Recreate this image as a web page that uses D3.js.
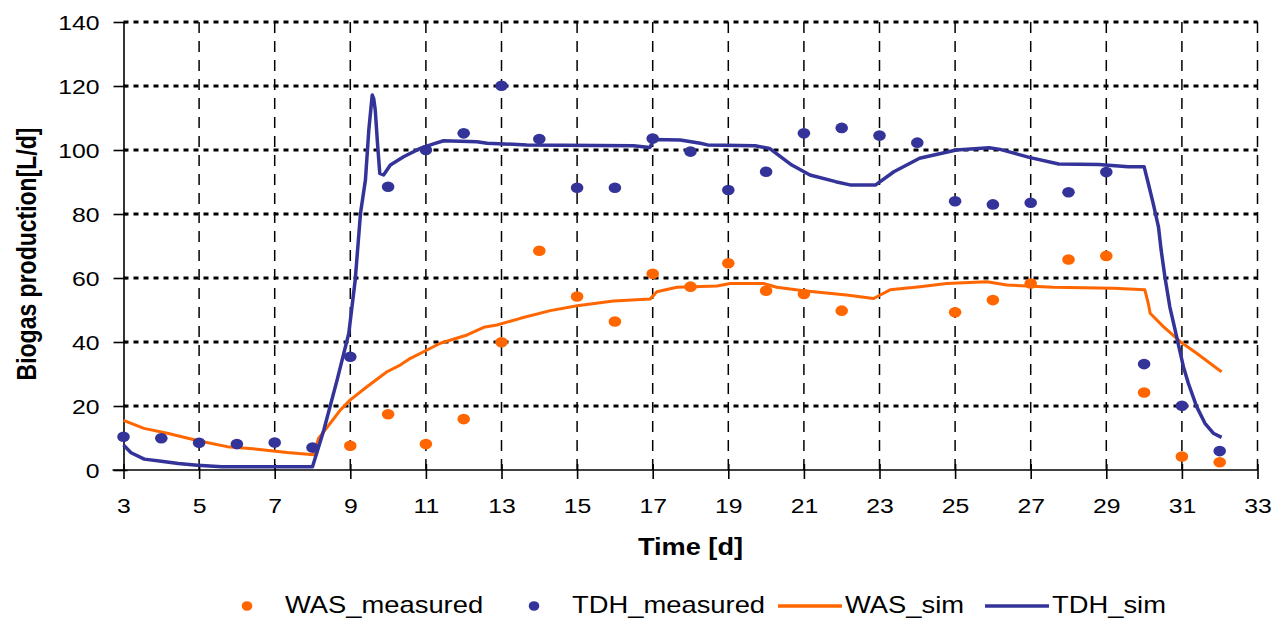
<!DOCTYPE html>
<html>
<head>
<meta charset="utf-8">
<script src="https://cdn.jsdelivr.net/npm/d3@7/dist/d3.min.js"></script>
<style>
  html, body { margin: 0; padding: 0; background: #fff; }
  svg { display: block; font-family: "Liberation Sans", Arial, sans-serif; }
</style>
</head>
<body>
<svg id="chart" width="1274" height="619"></svg>
<script>
// Measured daily biogas production [L/d]: [day, value]
const wasMeasured = [
  [9, 7.6], [10, 17.4], [11, 8.1], [12, 15.9], [13, 39.9], [14, 68.5], [15, 54.2],
  [16, 46.4], [17, 61.3], [18, 57.3], [19, 64.6], [20, 56.0], [21, 55.0], [22, 49.8],
  [25, 49.3], [26, 53.1], [27, 58.3], [28, 65.8], [29, 66.9], [30, 24.2], [31, 4.2], [32, 2.4]
];
const tdhMeasured = [
  [3, 10.4], [4, 9.9], [5, 8.5], [6, 8.1], [7, 8.6], [8, 7.0], [9, 35.4], [10, 88.5],
  [11, 100.0], [12, 105.2], [13, 120.1], [14, 103.4], [15, 88.2], [16, 88.2], [17, 103.6],
  [18, 99.5], [19, 87.5], [20, 93.2], [21, 105.2], [22, 106.9], [23, 104.5], [24, 102.3],
  [25, 84.0], [26, 83.0], [27, 83.5], [28, 86.8], [29, 93.1], [30, 33.1], [31, 20.1], [32, 5.9]
];

// Simulated production curves
const wasSim = [
  [3, 15.5], [3.54, 13.0], [4.16, 11.5], [4.95, 9.2], [5.74, 7.3], [6.54, 6.5], [7.33, 5.5],
  [8.03, 4.8], [8.16, 9.9], [8.47, 14.6], [8.74, 18.8], [9.0, 21.9], [9.44, 26.0], [9.97, 30.7],
  [10.32, 32.8], [10.59, 34.9], [11.03, 37.5], [11.38, 39.6], [12.09, 42.2], [12.53, 44.6],
  [12.88, 45.3], [13.5, 47.4], [14.29, 49.8], [15.0, 51.3], [15.96, 52.8], [16.93, 53.4],
  [17.11, 55.7], [17.64, 57.1], [18.7, 57.5], [19.05, 58.3], [19.93, 58.3], [20.28, 57.1],
  [20.99, 56.0], [22.13, 54.7], [22.84, 53.6], [23.02, 54.7], [23.28, 56.3], [24.07, 57.3],
  [24.78, 58.3], [25.84, 58.8], [26.37, 57.8], [27.6, 57.1], [29.19, 56.8], [30.02, 56.3],
  [30.11, 52.1], [30.16, 49.0], [30.51, 44.8], [30.96, 40.1], [31.39, 36.5], [31.92, 31.8],
  [32.05, 30.7]
];
const tdhSim = [
  [3, 7.8], [3.2, 5.4], [3.55, 3.4], [4.0, 2.7], [4.45, 2.0], [4.95, 1.5], [5.6, 1.0],
  [8.0, 1.0], [8.3, 12.5], [8.65, 28.1], [8.96, 42.7], [9.13, 59.4], [9.27, 80.2], [9.4, 90.6],
  [9.49, 106.3], [9.58, 117.2], [9.62, 116.0], [9.66, 112.5], [9.72, 102.0], [9.78, 92.7],
  [9.88, 92.2], [10.06, 95.3], [10.41, 97.9], [10.85, 100.5], [11.2, 101.9], [11.47, 102.9],
  [12.35, 102.6], [12.62, 102.1], [13.67, 101.6], [16.49, 101.3], [16.93, 100.8], [17.02, 103.3],
  [17.73, 103.1], [18.26, 102.1], [18.45, 101.6], [19.71, 101.3], [20.09, 100.5], [20.68, 95.3],
  [21.16, 92.2], [21.84, 90.1], [22.22, 89.1], [22.9, 89.1], [23.38, 93.2], [24.06, 97.4],
  [25.03, 100.0], [25.9, 100.7], [26.19, 100.2], [26.96, 97.7], [27.74, 95.6], [28.8, 95.5],
  [29.58, 94.8], [30.0, 94.8], [30.11, 89.6], [30.24, 83.3], [30.38, 76.0], [30.45, 68.8],
  [30.55, 60.4], [30.68, 51.0], [30.82, 43.8], [30.9, 39.6], [31.04, 32.3], [31.17, 27.1],
  [31.39, 19.8], [31.61, 14.6], [31.83, 11.5], [32.05, 10.2]
];

// Axis ticks
const xTicks = [3, 5, 7, 9, 11, 13, 15, 17, 19, 21, 23, 25, 27, 29, 31, 33];
const yTicks = [0, 20, 40, 60, 80, 100, 120, 140];

const seriesNames = ["WAS_measured", "TDH_measured", "WAS_sim", "TDH_sim"];
const ORANGE = "#FF6600", BLUE = "#333399";
const STRETCH = 1.18;   // horizontal widening applied to labels

const svg = d3.select("#chart");
const x = d3.scaleLinear().domain([3, 33]).range([123.5, 1257.5]);
const y = d3.scaleLinear().domain([0, 140]).range([470, 22]);

// Grid: dotted horizontals, dashed verticals
const grid = svg.append("g");
grid.selectAll("line.h").data(yTicks.filter(v => v > 0)).join("line")
  .attr("x1", x(3)).attr("x2", x(33))
  .attr("y1", d => y(d)).attr("y2", d => y(d))
  .attr("stroke", "#000").attr("stroke-width", 3).attr("stroke-dasharray", "5,5");
grid.selectAll("line.v").data(xTicks.filter(v => v > 3)).join("line")
  .attr("x1", d => x(d)).attr("x2", d => x(d))
  .attr("y1", y(0)).attr("y2", y(140))
  .attr("stroke", "#000").attr("stroke-width", 1.5).attr("stroke-dasharray", "11,8");

// Axes
const yAxis = svg.append("g").attr("transform", `translate(${x(3)},0)`)
  .call(d3.axisLeft(y).tickValues(yTicks).tickSize(10).tickSizeOuter(0).tickPadding(0));
const xAxis = svg.append("g").attr("transform", `translate(0,${y(0)})`)
  .call(d3.axisBottom(x).tickValues(xTicks).tickSize(9).tickSizeOuter(0).tickPadding(0));

[yAxis, xAxis].forEach(a => {
  a.select(".domain").attr("stroke", "#000").attr("stroke-width", 1.6);
  a.selectAll(".tick line").attr("stroke", "#000").attr("stroke-width", 1.6);
});
yAxis.selectAll(".tick line").attr("x1", 4);
xAxis.selectAll(".tick line").attr("y1", -6);
xAxis.select(".domain").attr("d", `M${x(3) - 11},0H${x(33)}`);

yAxis.selectAll(".tick text")
  .attr("x", null).attr("dy", "0.36em")
  .attr("transform", `translate(-24,0) scale(${STRETCH},1)`)
  .attr("text-anchor", "end").attr("fill", "#000")
  .style("font-size", "21px").style("font-family", "'Liberation Sans', Arial, sans-serif");
xAxis.selectAll(".tick text")
  .attr("y", null).attr("dy", "0.36em")
  .attr("transform", `translate(0,35) scale(${STRETCH},1)`)
  .attr("text-anchor", "middle").attr("fill", "#000")
  .style("font-size", "21px").style("font-family", "'Liberation Sans', Arial, sans-serif");

// Axis titles
svg.append("text")
  .attr("transform", `translate(${(x(3) + x(33)) / 2},547) scale(${STRETCH},1)`)
  .attr("text-anchor", "middle").attr("dy", "0.36em")
  .style("font-size", "23px").style("font-weight", "bold")
  .text("Time [d]");
svg.append("text")
  .attr("transform", `translate(26,254) rotate(-90) scale(1,${STRETCH})`)
  .attr("text-anchor", "middle").attr("dy", "0.36em")
  .style("font-size", "23px").style("font-weight", "bold")
  .text("Biogas production[L/d]");

// Simulated curves
const line = d3.line().x(d => x(d[0])).y(d => y(d[1]));
svg.append("path").datum(wasSim).attr("d", line)
  .attr("fill", "none").attr("stroke", ORANGE).attr("stroke-width", 3)
  .attr("stroke-linejoin", "round");
svg.append("path").datum(tdhSim).attr("d", line)
  .attr("fill", "none").attr("stroke", BLUE).attr("stroke-width", 3.5)
  .attr("stroke-linejoin", "round");

// Measured points
svg.append("g").selectAll("ellipse").data(wasMeasured).join("ellipse")
  .attr("cx", d => x(d[0])).attr("cy", d => y(d[1]))
  .attr("rx", 6.3).attr("ry", 5.3).attr("fill", ORANGE);
svg.append("g").selectAll("ellipse").data(tdhMeasured).join("ellipse")
  .attr("cx", d => x(d[0])).attr("cy", d => y(d[1]))
  .attr("rx", 6.3).attr("ry", 5.3).attr("fill", BLUE);

// Legend
const legendY = 605;
const legendItems = [
  { name: seriesNames[0], kind: "dot", color: ORANGE, mx: 247, tx: 285 },
  { name: seriesNames[1], kind: "dot", color: BLUE, mx: 534, tx: 572 },
  { name: seriesNames[2], kind: "line", color: ORANGE, mx: 778, tx: 845 },
  { name: seriesNames[3], kind: "line", color: BLUE, mx: 985, tx: 1052 }
];
const legend = svg.append("g");
legendItems.forEach(it => {
  if (it.kind === "dot") {
    legend.append("ellipse").attr("cx", it.mx).attr("cy", legendY + 1)
      .attr("rx", 5.3).attr("ry", 4.8).attr("fill", it.color);
  } else {
    legend.append("line").attr("x1", it.mx).attr("x2", it.mx + 64)
      .attr("y1", legendY + 1).attr("y2", legendY + 1)
      .attr("stroke", it.color).attr("stroke-width", 3.5);
  }
  legend.append("text")
    .attr("transform", `translate(${it.tx},${legendY}) scale(1.19,1)`)
    .attr("dy", "0.36em").style("font-size", "23px")
    .text(it.name);
});
</script>
</body>
</html>
